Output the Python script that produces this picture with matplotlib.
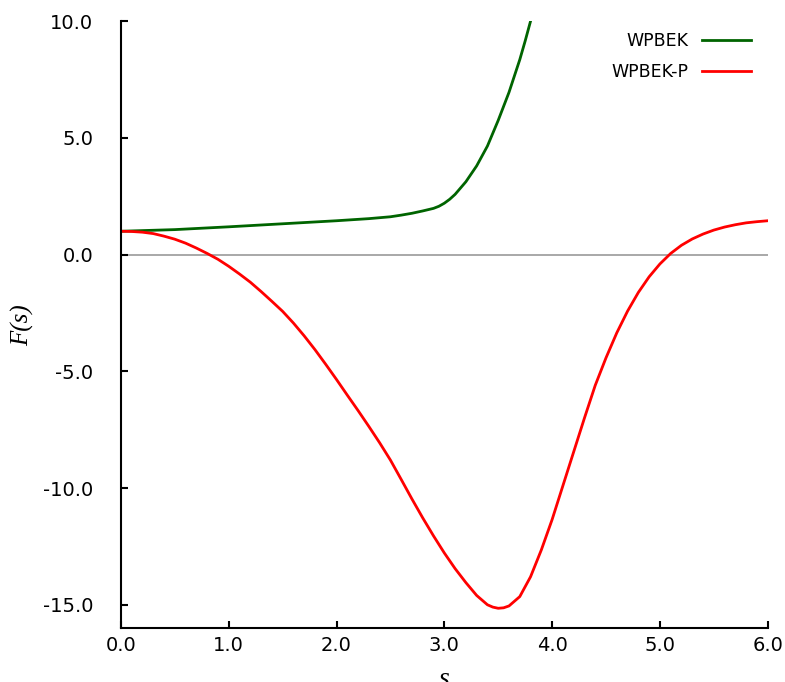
import matplotlib
matplotlib.use("Agg")
import matplotlib.pyplot as plt

# WPBEK enhancement factor
s_wpbek = [0.0, 0.5, 1.0, 1.5, 2.0, 2.3, 2.5, 2.6, 2.7, 2.8, 2.9, 2.95, 3.0, 3.05, 3.1,
           3.2, 3.3, 3.4, 3.5, 3.6, 3.7, 3.75, 3.8]
f_wpbek = [1.0, 1.07, 1.19, 1.32, 1.45, 1.54, 1.62, 1.69, 1.77, 1.87, 1.98, 2.07, 2.2, 2.37, 2.58,
           3.12, 3.8, 4.65, 5.75, 6.95, 8.35, 9.15, 10.0]

# WPBEK-P enhancement factor
s_wpbekp = [0.0, 0.1, 0.2, 0.3, 0.4, 0.5, 0.6, 0.7, 0.8, 0.9, 1.0, 1.1, 1.2,
            1.3, 1.4, 1.5, 1.6, 1.7, 1.8, 1.9, 2.0, 2.1, 2.2, 2.3, 2.4, 2.5,
            2.6, 2.7, 2.8, 2.9, 3.0, 3.1, 3.2, 3.3, 3.4, 3.45, 3.5, 3.55, 3.6,
            3.7, 3.8, 3.9, 4.0, 4.1, 4.2, 4.3, 4.4, 4.5, 4.6, 4.7, 4.8, 4.9,
            5.0, 5.1, 5.2, 5.3, 5.4, 5.5, 5.6, 5.7, 5.8, 5.9, 6.0]
f_wpbekp = [1.0, 0.99, 0.96, 0.9, 0.79, 0.66, 0.49, 0.28, 0.05, -0.2, -0.5, -0.83, -1.18,
            -1.58, -2.0, -2.43, -2.93, -3.48, -4.07, -4.7, -5.35, -6.02, -6.68, -7.36, -8.06, -8.8,
            -9.63, -10.47, -11.28, -12.05, -12.78, -13.45, -14.05, -14.6, -15.0, -15.1, -15.15, -15.13, -15.05,
            -14.65, -13.8, -12.65, -11.35, -9.9, -8.45, -7.0, -5.6, -4.42, -3.35, -2.42, -1.62, -0.95,
            -0.4, 0.05, 0.4, 0.67, 0.88, 1.05, 1.18, 1.28, 1.36, 1.41, 1.45]

fig = plt.figure(figsize=(7.85, 6.82), dpi=100)
ax = fig.add_axes([0.154, 0.079, 0.824, 0.890])

ax.axhline(0, color="#999999", lw=1.2, zorder=1)
ax.plot(s_wpbek, f_wpbek, color="#006400", lw=2, label="WPBEK")
ax.plot(s_wpbekp, f_wpbekp, color="#ff0000", lw=2, label="WPBEK-P")

ax.set_xlim(0, 6)
ax.set_ylim(-16, 10)
ax.set_xticks([0, 1, 2, 3, 4, 5, 6])
ax.set_xticklabels(["0.0", "1.0", "2.0", "3.0", "4.0", "5.0", "6.0"])
ax.set_yticks([-15, -10, -5, 0, 5, 10])
ax.set_yticklabels(["-15.0", "-10.0", "-5.0", "0.0", "5.0", "10.0"])

for side in ["top", "right"]:
    ax.spines[side].set_visible(False)
for side in ["left", "bottom"]:
    ax.spines[side].set_linewidth(1.5)
ax.tick_params(direction="in", length=5, width=1.5, labelsize=14)
ax.tick_params(axis="x", pad=6)
ax.tick_params(axis="y", pad=20)

ax.set_xlabel("s", family="Liberation Serif", style="italic", fontsize=20, labelpad=8)
ax.set_ylabel("F(s)", family="Liberation Serif", style="italic", fontsize=18, labelpad=6)

ax.legend(loc="upper right", bbox_to_anchor=(1.006, 1.016), frameon=False,
          markerfirst=False, fontsize=12.5, handlelength=2.8,
          borderaxespad=0.8, labelspacing=0.75)

fig.savefig("out.png", dpi=100)
